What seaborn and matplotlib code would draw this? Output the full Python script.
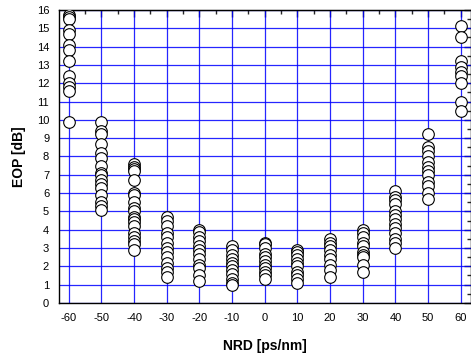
import matplotlib
matplotlib.use("Agg")
import matplotlib.pyplot as plt
from matplotlib.ticker import MultipleLocator
import seaborn as sns
import pandas as pd

nrd_m60 = [15.7, 15.6, 15.5, 14.9, 14.7, 14.1, 13.8, 13.2, 12.4, 12.0, 11.8, 11.6, 9.9]
nrd_m50 = [9.9, 9.4, 9.2, 8.7, 8.2, 7.9, 7.5, 7.1, 7.0, 6.7, 6.5, 6.3, 5.9, 5.5, 5.3, 5.1]
nrd_m40 = [7.6, 7.4, 7.3, 7.2, 6.7, 6.0, 5.9, 5.5, 5.2, 5.0, 4.7, 4.6, 4.4, 4.2, 3.8, 3.6, 3.4, 3.2, 2.9]
nrd_m30 = [4.7, 4.5, 4.2, 3.8, 3.6, 3.3, 3.0, 2.8, 2.5, 2.2, 1.9, 1.7, 1.4]
nrd_m20 = [4.0, 3.9, 3.6, 3.4, 3.1, 2.9, 2.7, 2.4, 2.1, 1.9, 1.5, 1.2]
nrd_m10 = [3.1, 2.9, 2.6, 2.4, 2.2, 2.0, 1.8, 1.6, 1.3, 1.1, 1.0]
nrd_0 = [3.3, 3.2, 3.0, 2.7, 2.5, 2.3, 2.1, 1.9, 1.7, 1.5, 1.3]
nrd_p10 = [2.9, 2.8, 2.6, 2.4, 2.2, 2.0, 1.7, 1.5, 1.3, 1.1]
nrd_p20 = [3.5, 3.3, 3.1, 2.9, 2.6, 2.4, 2.1, 1.8, 1.4]
nrd_p30 = [4.0, 3.8, 3.6, 3.3, 3.1, 2.8, 2.6, 2.5, 2.1, 1.7]
nrd_p40 = [6.1, 5.8, 5.6, 5.4, 5.0, 4.8, 4.6, 4.3, 4.1, 3.8, 3.5, 3.3, 3.0]
nrd_p50 = [9.2, 8.5, 8.3, 8.0, 7.7, 7.4, 7.2, 7.0, 6.6, 6.4, 6.0, 5.7]
nrd_p60 = [15.1, 14.5, 13.2, 12.9, 12.6, 12.4, 12.0, 11.0, 10.5]

nrd_values = [-60, -50, -40, -30, -20, -10, 0, 10, 20, 30, 40, 50, 60]
eop_columns = [nrd_m60, nrd_m50, nrd_m40, nrd_m30, nrd_m20, nrd_m10, nrd_0,
               nrd_p10, nrd_p20, nrd_p30, nrd_p40, nrd_p50, nrd_p60]

rows = []
for x, col in zip(nrd_values, eop_columns):
    for v in col:
        rows.append({"NRD": x, "EOP": v})
df = pd.DataFrame(rows)

sns.set_style("white")
plt.rcParams['font.family'] = ['Liberation Sans', 'DejaVu Sans']
plt.rcParams['axes.unicode_minus'] = False
plt.rcParams['text.color'] = 'black'
plt.rcParams['axes.labelcolor'] = 'black'

fig = plt.figure(figsize=(4.71, 3.56), dpi=100)
ax = fig.add_axes([0.125, 0.149, 0.874, 0.823])

ax.set_axisbelow(True)
ax.grid(True, which='major', color='#0000ff', linewidth=0.9, alpha=0.85)

sns.scatterplot(data=df, x="NRD", y="EOP", ax=ax, marker='o', s=70,
                facecolor='white', edgecolor='black', linewidth=0.8, zorder=3)

ax.set_xlim(-63, 63)
ax.set_ylim(0, 16)
ax.xaxis.set_major_locator(MultipleLocator(10))
ax.xaxis.set_minor_locator(MultipleLocator(5))
ax.yaxis.set_major_locator(MultipleLocator(1))
ax.yaxis.set_minor_locator(MultipleLocator(0.5))

ax.tick_params(axis='both', which='major', direction='out', length=5, width=1,
               labelsize=8, colors='black', labelcolor='black', pad=2)
ax.tick_params(axis='both', which='minor', direction='out', length=3, width=1, colors='black')
ax.tick_params(top=False, right=False, which='both')

# inward ticks on top and right
secx = ax.secondary_xaxis('top')
secx.xaxis.set_major_locator(MultipleLocator(10))
secx.xaxis.set_minor_locator(MultipleLocator(5))
secx.tick_params(which='major', direction='in', length=5, width=1, labeltop=False)
secx.tick_params(which='minor', direction='in', length=3, width=1)
secx.set_xticklabels([])
secy = ax.secondary_yaxis('right')
secy.yaxis.set_major_locator(MultipleLocator(1))
secy.yaxis.set_minor_locator(MultipleLocator(0.5))
secy.tick_params(which='major', direction='in', length=5, width=1)
secy.tick_params(which='minor', direction='in', length=3, width=1)
secy.set_yticklabels([])

for s in ax.spines.values():
    s.set_color('black')
    s.set_linewidth(1)
    s.set_visible(True)

ax.set_xlabel("NRD [ps/nm]", fontsize=10, fontweight='bold', labelpad=12, color='black')
ax.set_ylabel("EOP [dB]", fontsize=10, fontweight='bold', labelpad=8, color='black')

fig.savefig("out.png", dpi=100)
